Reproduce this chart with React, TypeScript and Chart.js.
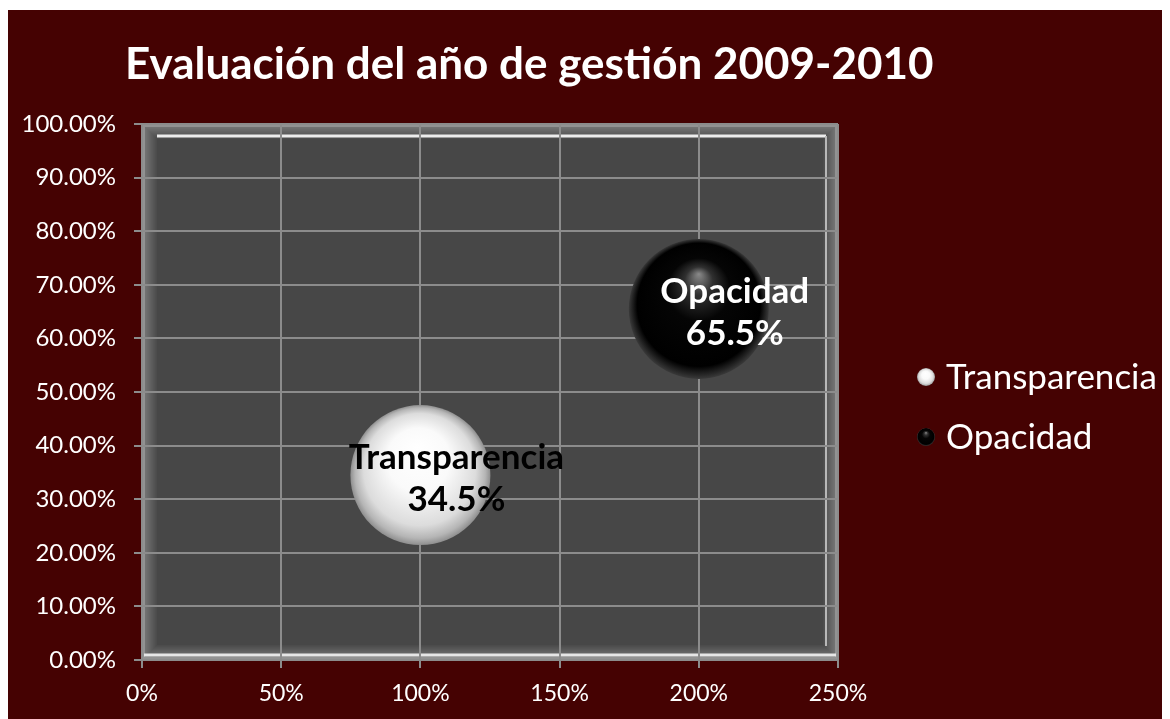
import React, { useEffect, useRef } from 'react';
import { Chart, registerables } from 'chart.js';

Chart.register(...registerables);

const TITLE = 'Evaluación del año de gestión 2009-2010';
const seriesNames = ['Transparencia', 'Opacidad'];
const xValues = [1, 2];
const yValues = [0.345, 0.655];
const bubbleSizes = [70, 70];
const valueLabels = ['34.5%', '65.5%'];
const darkSeries = [false, true];

const BG = '#450202';
const FONT = 'Lato';

function sphere(ctx: CanvasRenderingContext2D, cx: number, cy: number, r: number, dark: boolean) {
  if (dark) {
    const g = ctx.createRadialGradient(cx, cy - 0.5 * r, 0, cx, cy, r);
    g.addColorStop(0, '#8a8a8a');
    g.addColorStop(0.2, '#303030');
    g.addColorStop(0.45, '#050505');
    g.addColorStop(0.88, '#000000');
    g.addColorStop(1, '#3a3a3a');
    return g;
  }
  const g = ctx.createRadialGradient(cx - 0.05 * r, cy - 0.4 * r, 0, cx, cy, r);
  g.addColorStop(0, '#ffffff');
  g.addColorStop(0.45, '#fafafa');
  g.addColorStop(0.8, '#dcdcdc');
  g.addColorStop(0.93, '#b5b5b5');
  g.addColorStop(1, '#8e8e8e');
  return g;
}

const framePlugin = {
  id: 'frame',
  beforeDraw(chart: any) {
    const { ctx, chartArea: a, width, height } = chart;
    ctx.save();
    ctx.fillStyle = BG;
    ctx.fillRect(0, 0, width, height);
    const l = a.left, t = a.top, r = a.right, b = a.bottom;
    ctx.fillStyle = '#474747';
    ctx.fillRect(l, t, r - l, b - t);
    const steps = 12;
    for (let i = 0; i < steps; i++) {
      const k = i / (steps - 1);
      const c = Math.round(0x72 - k * (0x72 - 0x4c));
      ctx.strokeStyle = `rgb(${c},${c},${c})`;
      ctx.lineWidth = 1;
      ctx.strokeRect(l + 3 + i + 0.5, t + 3 + i + 0.5, r - l - 2 * (3 + i) - 1, b - t - 2 * (3 + i) - 1);
    }
    ctx.strokeStyle = '#929292';
    ctx.lineWidth = 3;
    ctx.strokeRect(l + 1.5, t + 1.5, r - l - 3, b - t - 3);
    ctx.lineWidth = 3;
    ctx.strokeStyle = '#ececec';
    ctx.beginPath();
    ctx.moveTo(l + 15, t + 12);
    ctx.lineTo(r - 12, t + 12);
    ctx.stroke();
    ctx.lineWidth = 2;
    ctx.strokeStyle = '#b8b8b8';
    ctx.beginPath();
    ctx.moveTo(r - 12, t + 12);
    ctx.lineTo(r - 12, b - 14);
    ctx.stroke();
    ctx.lineWidth = 3;
    ctx.strokeStyle = '#e6e6e6';
    ctx.beginPath();
    ctx.moveTo(l + 2, b - 5);
    ctx.lineTo(r - 2, b - 5);
    ctx.stroke();
    ctx.restore();
  },
  afterDraw(chart: any) {
    const { ctx } = chart;
    ctx.save();
    ctx.fillStyle = '#ffffff';
    ctx.font = `bold 44px ${FONT}`;
    ctx.textAlign = 'left';
    ctx.textBaseline = 'alphabetic';
    ctx.fillText(TITLE, 117, 69);
    ctx.font = `35px ${FONT}`;
    seriesNames.forEach((name, i) => {
      const cy = 367 + i * 60;
      const cx = 918;
      ctx.beginPath();
      ctx.arc(cx, cy, 9, 0, Math.PI * 2);
      ctx.fillStyle = sphere(ctx, cx, cy, 9, darkSeries[i]);
      ctx.fill();
      ctx.fillStyle = '#ffffff';
      ctx.fillText(name, 938, cy + 12);
    });
    ctx.restore();
  },
  afterDatasetsDraw(chart: any) {
    const { ctx } = chart;
    ctx.save();
    ctx.font = `bold 35px ${FONT}`;
    ctx.textAlign = 'center';
    ctx.textBaseline = 'middle';
    chart.data.datasets.forEach((ds: any, i: number) => {
      const meta = chart.getDatasetMeta(i);
      const el = meta.data[0];
      if (!el) return;
      const x = el.x + 36;
      const y = el.y;
      ctx.fillStyle = darkSeries[i] ? '#ffffff' : '#000000';
      ctx.fillText(seriesNames[i], x, y - 17);
      ctx.fillText(valueLabels[i], x, y + 25);
    });
    ctx.restore();
  },
};

export default function App() {
  const ref = useRef<HTMLCanvasElement>(null);
  useEffect(() => {
    if (!ref.current) return;
    const chart = new Chart(ref.current, {
      type: 'bubble',
      data: {
        datasets: seriesNames.map((name, i) => ({
          label: name,
          data: [{ x: xValues[i], y: yValues[i], r: bubbleSizes[i] }],
          borderWidth: 0,
          backgroundColor: (c: any) => {
            const chart = c.chart;
            if (!chart.chartArea || !c.raw) return darkSeries[i] ? '#000' : '#fff';
            const cx = chart.scales.x.getPixelForValue(c.raw.x);
            const cy = chart.scales.y.getPixelForValue(c.raw.y);
            return sphere(chart.ctx, cx, cy, c.raw.r, darkSeries[i]);
          },
        })),
      },
      options: {
        animation: false,
        responsive: false,
        events: [],
        layout: { autoPadding: false, padding: { top: 114, right: 332, bottom: 0, left: 0 } },
        plugins: {
          legend: { display: false },
          title: { display: false },
          tooltip: { enabled: false },
        },
        scales: {
          x: {
            type: 'linear',
            min: 0,
            max: 2.5,
            afterFit: (s: any) => { s.height = 59; },
            grid: { color: '#8c8c8c', lineWidth: 2, tickLength: 8, drawTicks: true },
            border: { display: true, color: '#8c8c8c', width: 2 },
            ticks: {
              stepSize: 0.5,
              color: '#ffffff',
              padding: 12,
              font: { family: FONT, size: 23 },
              callback: (v: any) => `${Math.round(Number(v) * 100)}%`,
            },
          },
          y: {
            type: 'linear',
            min: 0,
            max: 1,
            afterFit: (s: any) => { s.width = 134; },
            grid: { color: '#8c8c8c', lineWidth: 2, tickLength: 8, drawTicks: true },
            border: { display: true, color: '#8c8c8c', width: 2 },
            ticks: {
              stepSize: 0.1,
              color: '#ffffff',
              padding: 18,
              font: { family: FONT, size: 24 },
              callback: (v: any) => `${(Number(v) * 100).toFixed(2)}%`,
            },
          },
        },
      },
      plugins: [framePlugin],
    });
    return () => chart.destroy();
  }, []);
  return (
    <div style={{ paddingTop: 2 }}>
      <canvas
        ref={ref}
        width={1162}
        height={709}
        style={{ display: 'block', width: 1162, height: 709 }}
      />
    </div>
  );
}
